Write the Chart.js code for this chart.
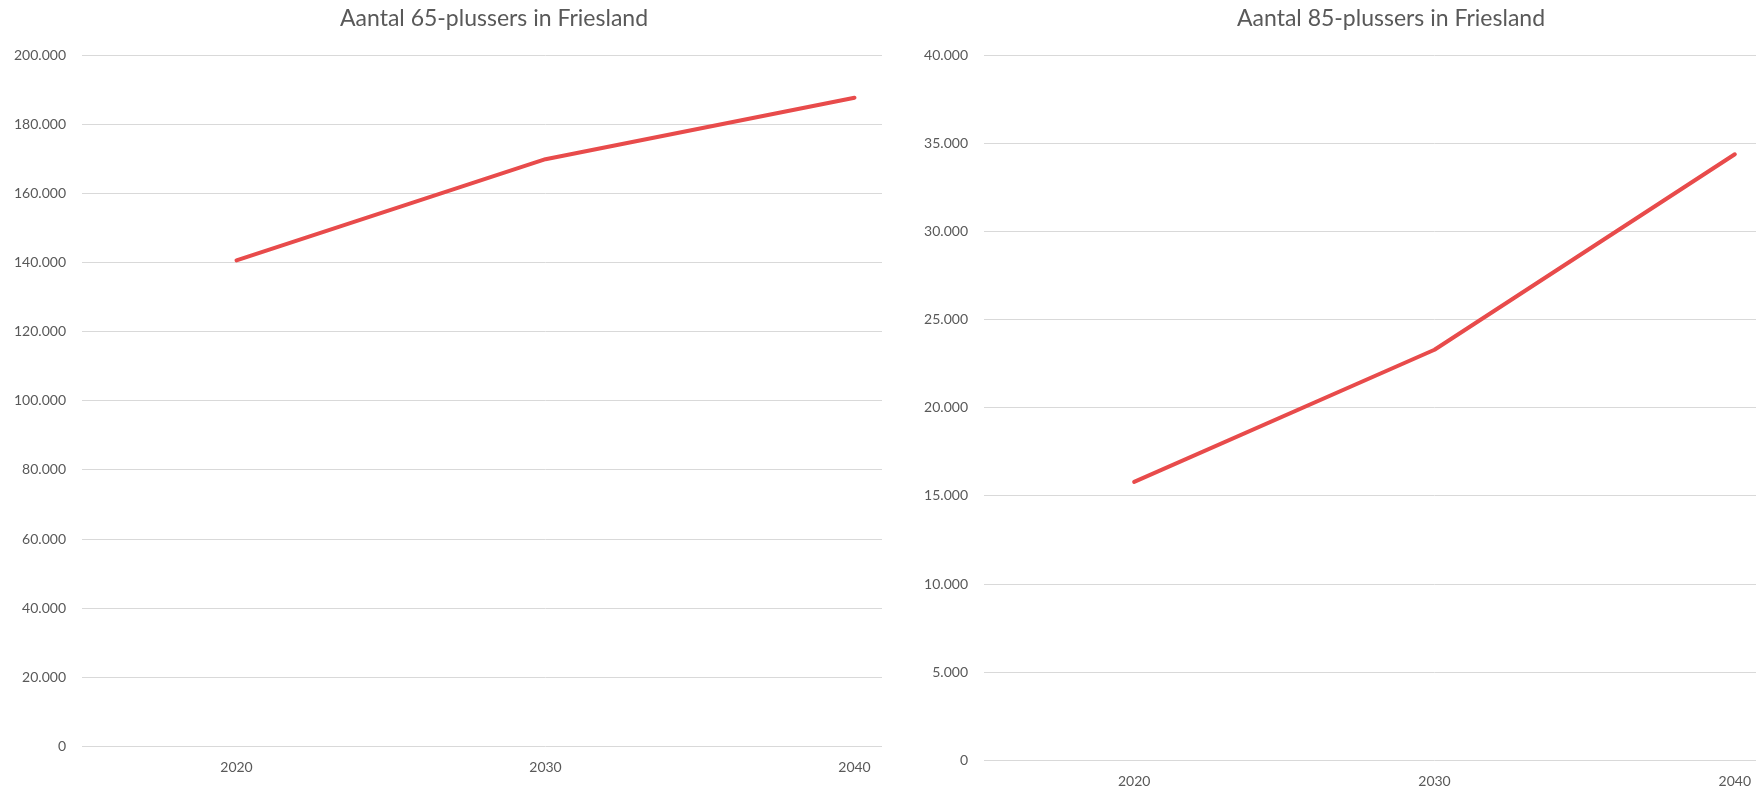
<!DOCTYPE html>
<html>
<head>
<meta charset="utf-8">
<script src="https://cdn.jsdelivr.net/npm/chart.js"></script>
<style>
  html, body { margin: 0; padding: 0; background: #ffffff; }
  body { width: 1756px; height: 789px; overflow: hidden; position: relative; }
  .panel { position: absolute; top: 0; height: 789px; overflow: hidden; background: #ffffff; }
  #p1 { left: 0; width: 882px; }
  #p2 { left: 882px; width: 874px; }
  canvas { position: absolute; top: 0; }
  #c1 { left: -21px; }
  #c2 { left: 15px; }
</style>
</head>
<body>
<div class="panel" id="p1"><canvas id="c1" width="1030" height="789"></canvas></div>
<div class="panel" id="p2"><canvas id="c2" width="988" height="803"></canvas></div>
<script>
// Data
const years = ['2020', '2030', '2040'];
const plus65 = [140700, 170000, 187800];
const plus85 = [15800, 23300, 34400];

// Tick labels
const yLabels65 = ['0', '20.000', '40.000', '60.000', '80.000', '100.000', '120.000', '140.000', '160.000', '180.000', '200.000'];
const yLabels85 = ['0', '5.000', '10.000', '15.000', '20.000', '25.000', '30.000', '35.000', '40.000'];

const title65 = 'Aantal 65-plussers in Friesland';
const title85 = 'Aantal 85-plussers in Friesland';

Chart.defaults.font.family = "Lato, 'Open Sans', sans-serif";
Chart.defaults.color = '#595959';

function makeChart(id, title, values, labels, yMax, yStep, axisWidth, padBottom) {
  return new Chart(document.getElementById(id), {
    type: 'line',
    data: {
      labels: years,
      datasets: [{
        data: values,
        borderColor: '#E84B4B',
        backgroundColor: '#E84B4B',
        borderWidth: 4,
        pointRadius: 0,
        tension: 0,
        borderCapStyle: 'round',
        borderJoinStyle: 'round',
        fill: false
      }]
    },
    options: {
      responsive: false,
      animation: false,
      devicePixelRatio: 1,
      layout: { padding: { left: 0, right: 0, top: 0, bottom: padBottom } },
      plugins: {
        legend: { display: false },
        tooltip: { enabled: false },
        title: {
          display: true,
          text: title,
          color: '#595959',
          font: { size: 23, weight: 'normal' },
          padding: { top: 5, bottom: 23 }
        }
      },
      scales: {
        x: {
          offset: true,
          grid: { display: false, drawTicks: false },
          border: { display: false },
          ticks: { padding: 13, font: { size: 14 }, color: '#595959' }
        },
        y: {
          min: 0,
          max: yMax,
          grid: { color: '#D9D9D9', lineWidth: 1, drawTicks: false },
          border: { display: false },
          ticks: {
            stepSize: yStep,
            padding: 16,
            font: { size: 14 },
            color: '#595959',
            callback: (v, i) => labels[i]
          },
          afterFit: (scale) => { scale.width = axisWidth; }
        }
      }
    }
  });
}

makeChart('c1', title65, plus65, yLabels65, 200000, 20000, 103, 0);
makeChart('c2', title85, plus85, yLabels85, 40000, 5000, 87, 0);
</script>
</body>
</html>
